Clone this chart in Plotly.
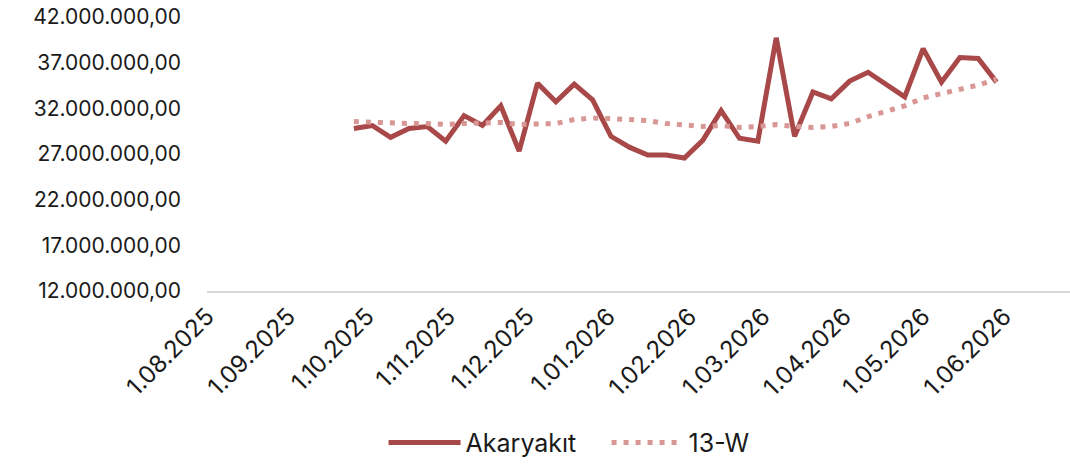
import pandas as pd
import plotly.graph_objects as go

# Weekly dates
start_date = "2025-09-26"
n_weeks = 36
dates = pd.date_range(start=start_date, periods=n_weeks, freq="7D")

# Series values (millions)
akaryakit_m = [
    29.80, 30.12, 28.83, 29.80, 30.01, 28.40, 31.20, 30.12, 32.28, 27.32,
    34.76, 32.71, 34.65, 32.93, 28.94, 27.75, 26.89, 26.89, 26.56, 28.50,
    31.74, 28.72, 28.40, 39.72, 28.94, 33.79, 33.04, 34.98, 35.95, 34.55,
    33.25, 38.54, 34.87, 37.57, 37.46, 34.87,
]
w13_m = [
    30.55, 30.45, 30.34, 30.34, 30.34, 30.23, 30.34, 30.34, 30.45, 30.23,
    30.23, 30.34, 30.77, 30.93, 30.88, 30.77, 30.66, 30.34, 30.12, 30.01,
    30.12, 29.91, 30.01, 30.23, 30.01, 29.91, 30.01, 30.34, 31.09, 31.63,
    32.28, 33.14, 33.57, 34.01, 34.55, 35.19,
]

akaryakit = [v * 1_000_000 for v in akaryakit_m]
w13 = [v * 1_000_000 for v in w13_m]

# Axis ticks
x_tickvals = ["2025-08-01", "2025-09-01", "2025-10-01", "2025-11-01", "2025-12-01",
              "2026-01-01", "2026-02-01", "2026-03-01", "2026-04-01", "2026-05-01",
              "2026-06-01"]
x_ticktext = ["1.08.2025", "1.09.2025", "1.10.2025", "1.11.2025", "1.12.2025",
              "1.01.2026", "1.02.2026", "1.03.2026", "1.04.2026", "1.05.2026",
              "1.06.2026"]
y_tickvals = [12e6, 17e6, 22e6, 27e6, 32e6, 37e6, 42e6]
y_ticktext = ["12.000.000,00", "17.000.000,00", "22.000.000,00", "27.000.000,00",
              "32.000.000,00", "37.000.000,00", "42.000.000,00"]

FONT = "Inter, 'Noto Sans', sans-serif"

fig = go.Figure()
fig.add_trace(go.Scatter(
    x=dates, y=akaryakit, name="Akaryakıt", mode="lines",
    line=dict(color="#A84848", width=5),
))
fig.add_trace(go.Scatter(
    x=dates, y=w13, name="13-W", mode="lines",
    line=dict(color="#D89695", width=5, dash="5px,7px"),
))

fig.update_layout(
    width=1070, height=466,
    margin=dict(l=207, r=0, t=17, b=171),
    paper_bgcolor="white", plot_bgcolor="white",
    font=dict(family=FONT, size=22, color="#1a1a1a"),
    showlegend=True,
    legend=dict(orientation="h", x=0.463, xanchor="center", y=-0.554, yanchor="middle",
                font=dict(size=25), itemwidth=72, entrywidth=136, tracegroupgap=0),
)
fig.update_xaxes(
    type="date", range=["2025-08-01", "2026-06-26"],
    tickvals=x_tickvals, ticktext=x_ticktext, tickangle=-45,
    showgrid=False, zeroline=False, automargin=False,
    showline=True, linecolor="#D9D9D9", linewidth=2,
    ticks="", tickfont=dict(size=24),
)
fig.update_yaxes(
    range=[12e6, 42e6], tickvals=y_tickvals, ticktext=y_ticktext,
    showgrid=False, zeroline=False, showline=False, automargin=False,
    ticks="", ticklabelstandoff=25, tickfont=dict(size=21),
)

fig.write_html("out.html", config={"displayModeBar": False},
               post_script="document.body.style.margin='0';")
